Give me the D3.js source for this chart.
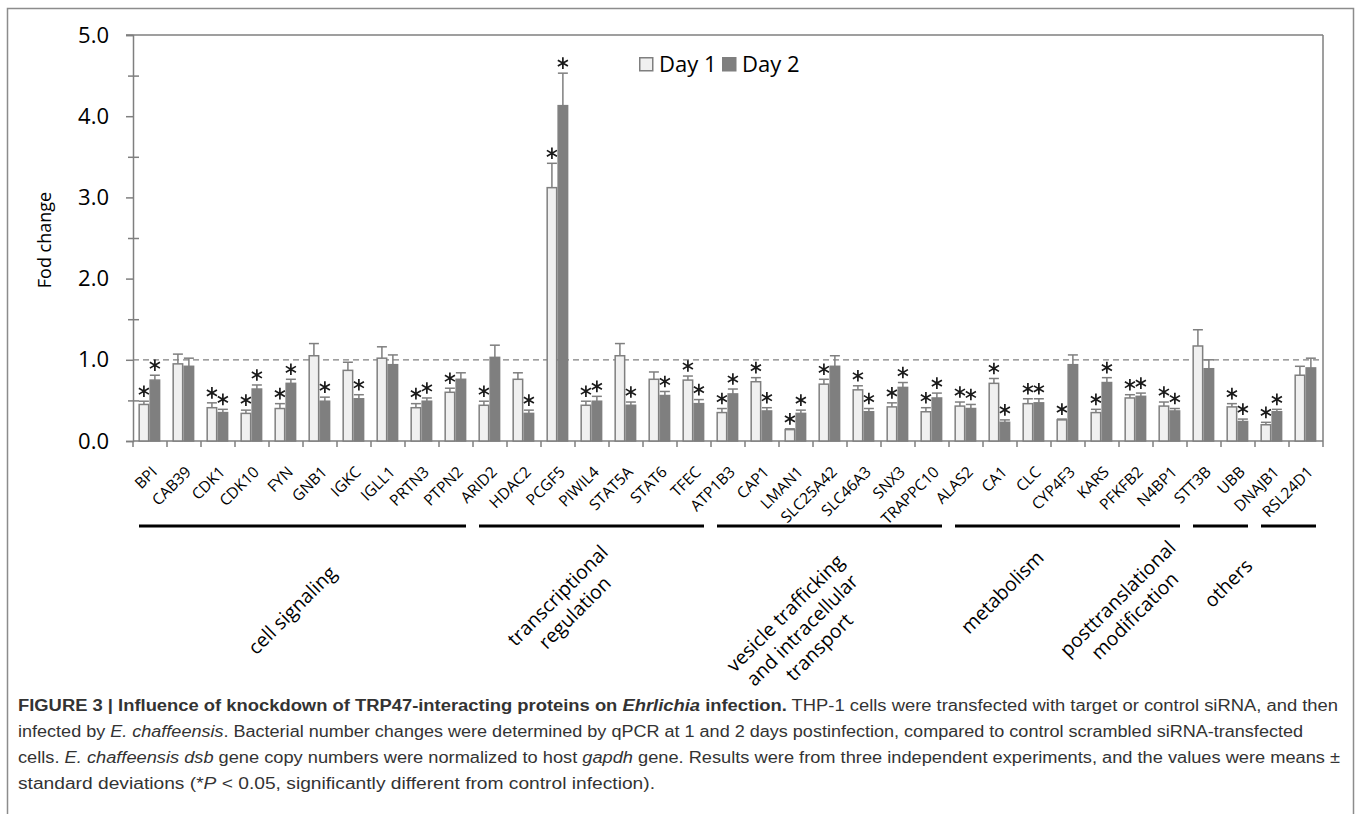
<!DOCTYPE html>
<html><head><meta charset="utf-8">
<script src="https://cdn.jsdelivr.net/npm/d3@7"></script>
<style>
body{margin:0;background:#fff;}
svg{display:block;}
</style></head>
<body>
<script>
// ---------------- DATA ----------------
const genes = ["BPI","CAB39","CDK1","CDK10","FYN","GNB1","IGKC","IGLL1","PRTN3","PTPN2",
  "ARID2","HDAC2","PCGF5","PIWIL4","STAT5A","STAT6","TFEC",
  "ATP1B3","CAP1","LMAN1","SLC25A42","SLC46A3","SNX3","TRAPPC10",
  "ALAS2","CA1","CLC","CYP4F3","KARS","PFKFB2","N4BP1",
  "STT3B","UBB","DNAJB1","RSL24D1"];
const day1 = [0.45,0.95,0.41,0.34,0.40,1.05,0.87,1.02,0.41,0.60,
  0.44,0.76,3.12,0.44,1.05,0.76,0.75,
  0.35,0.73,0.14,0.70,0.63,0.42,0.36,
  0.43,0.71,0.46,0.26,0.35,0.53,0.43,
  1.17,0.42,0.20,0.81];
const day2 = [0.75,0.92,0.35,0.64,0.71,0.49,0.52,0.94,0.49,0.76,
  1.03,0.34,4.13,0.49,0.44,0.56,0.46,
  0.58,0.37,0.34,0.92,0.36,0.66,0.53,
  0.40,0.23,0.47,0.94,0.72,0.55,0.37,
  0.89,0.24,0.36,0.90];
const sd1 = [0.04,0.12,0.06,0.04,0.06,0.15,0.10,0.14,0.05,0.05,
  0.05,0.08,0.30,0.05,0.15,0.09,0.05,
  0.05,0.05,0.01,0.06,0.05,0.05,0.05,
  0.05,0.06,0.06,0.01,0.04,0.04,0.05,
  0.20,0.04,0.03,0.11];
const sd2 = [0.06,0.10,0.04,0.05,0.05,0.05,0.05,0.12,0.04,0.08,
  0.15,0.04,0.40,0.06,0.04,0.05,0.05,
  0.06,0.04,0.04,0.13,0.04,0.06,0.06,
  0.05,0.03,0.05,0.12,0.06,0.04,0.03,
  0.11,0.03,0.03,0.12];
const sig1 = [1,0,1,1,1,0,0,0,1,1, 1,0,1,1,0,0,1, 1,1,1,1,1,1,1, 1,1,1,1,1,1,1, 0,1,1,0];
const sig2 = [1,0,1,1,1,1,1,0,1,0, 0,1,1,1,1,1,1, 1,1,1,0,1,1,1, 1,1,1,0,1,1,1, 0,1,1,0];
const seriesNames = ["Day 1","Day 2"];
const groupNames = [["cell signaling"],["transcriptional","regulation"],["vesicle trafficking","and intracellular","transport"],["metabolism"],["posttranslational","modification"],["others"]];
const groupSizes = [10,7,7,7,2,2];
const yTicks = [0,1,2,3,4,5];
const yMinor = [0.5,1.5,2.5,3.5,4.5];
const refLine = 1.0;
const yLabel = "Fod change";

// ---------------- LAYOUT ----------------
const W = 1360, H = 814;
const mL = 133, mR = 1323, mT = 35, mB = 441;
const groupLabelPos = [[292,610],[566,604],[802,630],[1002,592],[1126,607],[1228,583]];
const FONT = "'Open Sans', 'DejaVu Sans', sans-serif";
const GRAY = "#7f7f7f";

const svg = d3.select("body").append("svg").attr("width", W).attr("height", H);

// outer frame
svg.append("path").attr("d", `M7.5,${H+2} V8.5 H1353.5 V${H+2}`)
  .attr("fill","none").attr("stroke","#8c8c8c").attr("stroke-width",1.5);

const x = d3.scaleBand().domain(genes).range([mL, mR]).padding(0);
const xs = d3.scaleBand().domain(seriesNames).range([0, x.bandwidth()]).paddingInner(0).paddingOuter(0.55).align(0.45);
const y = d3.scaleLinear().domain([0,5]).range([mB, mT]);

const g = svg.append("g");

// plot frame top and right
g.append("line").attr("x1", mL-7).attr("x2", mR).attr("y1", y(5)).attr("y2", y(5))
  .attr("stroke", GRAY).attr("stroke-width", 1.5);
g.append("line").attr("x1", mR).attr("x2", mR).attr("y1", y(5)).attr("y2", y(0))
  .attr("stroke", GRAY).attr("stroke-width", 1.5);

// reference dashed line
g.append("line").attr("x1", mL).attr("x2", mR).attr("y1", y(refLine)).attr("y2", y(refLine))
  .attr("stroke", "#808080").attr("stroke-width", 1.2).attr("stroke-dasharray","6,4");

// y axis
const ya = g.append("g").attr("transform", `translate(${mL},0)`)
  .call(d3.axisLeft(y).tickValues(yTicks).tickSize(7).tickFormat(d3.format(".1f")));
ya.select(".domain").attr("stroke", GRAY).attr("stroke-width", 1.5);
ya.selectAll(".tick line").attr("stroke", GRAY).attr("stroke-width", 1.5);
ya.selectAll(".tick text").attr("font-family", FONT).attr("font-size", 22).attr("fill","#000").attr("x",-24);
const ym1 = g.append("g").attr("transform", `translate(${mL},0)`)
  .call(d3.axisLeft(y).tickValues(yMinor).tickSize(5).tickFormat(""));
const ym2 = g.append("g").attr("transform", `translate(${mL},0)`)
  .call(d3.axisRight(y).tickValues(yMinor).tickSize(6).tickFormat(""));
[ym1, ym2].forEach(a => { a.select(".domain").remove(); a.selectAll(".tick line").attr("stroke", GRAY).attr("stroke-width",1.5); });

svg.append("text").attr("transform", `translate(51,240) rotate(-90)`)
  .attr("text-anchor","middle").attr("font-family", FONT).attr("font-size", 18).text(yLabel);

// x axis
const xa = g.append("g").attr("transform", `translate(0,${mB})`)
  .call(d3.axisBottom(x).tickSize(0).tickSizeOuter(0));
xa.select(".domain").attr("stroke", GRAY).attr("stroke-width", 1.5).attr("d", `M${mL},0H${mR}`);
xa.selectAll(".tick text").attr("font-family", FONT).attr("font-size", 15.5).attr("fill","#000")
  .attr("text-anchor","end").attr("x",0).attr("y",0).attr("dy",0)
  .attr("transform","translate(8,32) rotate(-45)");
// boundary ticks
xa.selectAll(".bt").data(genes.concat(["__end"])).join("line").attr("class","bt")
  .attr("x1", (d,i) => i < genes.length ? x(d) : x(genes[genes.length-1]) + x.bandwidth())
  .attr("x2", (d,i) => i < genes.length ? x(d) : x(genes[genes.length-1]) + x.bandwidth())
  .attr("y1", 0).attr("y2", 6).attr("stroke", GRAY).attr("stroke-width", 1.5);

// bars
const rows = genes.map((gname,i) => ({gene:gname, vals:[
  {s:"Day 1", v:day1[i], e:sd1[i], sig:sig1[i]},
  {s:"Day 2", v:day2[i], e:sd2[i], sig:sig2[i]}]}));
const cat = g.selectAll(".cat").data(rows).join("g").attr("class","cat")
  .attr("transform", d => `translate(${x(d.gene)},0)`);
const fills = {"Day 1":"#f0f0f0","Day 2":"#7f7f7f"};
const items = cat.selectAll(".it").data(d => d.vals).join("g").attr("class","it");
// error bars (upper only)
items.append("line").attr("x1", d => xs(d.s)+xs.bandwidth()/2).attr("x2", d => xs(d.s)+xs.bandwidth()/2)
  .attr("y1", d => y(d.v)).attr("y2", d => y(d.v+d.e)).attr("stroke", GRAY).attr("stroke-width",1.5);
items.append("line").attr("x1", d => xs(d.s)+0.5).attr("x2", d => xs(d.s)+xs.bandwidth()-0.5)
  .attr("y1", d => y(d.v+d.e)).attr("y2", d => y(d.v+d.e)).attr("stroke", GRAY).attr("stroke-width",1.5);
items.append("rect").attr("x", d => xs(d.s)+0.75).attr("width", xs.bandwidth()-1.5)
  .attr("y", d => y(d.v)).attr("height", d => y(0)-y(d.v))
  .attr("fill", d => fills[d.s]).attr("stroke", GRAY).attr("stroke-width",1.5);
// significance asterisks
const star = d3.symbol().type(d3.symbolAsterisk).size(95);
items.filter(d => d.sig).append("path")
  .attr("transform", d => `translate(${xs(d.s)+xs.bandwidth()/2},${y(d.v+d.e)-10})`)
  .attr("d", star()).attr("fill","none").attr("stroke","#1a1a1a").attr("stroke-width",1.7);

// legend
const lg = svg.append("g").attr("transform","translate(639,57)");
seriesNames.forEach((s,i) => {
  const gg = lg.append("g").attr("transform", `translate(${i*83},0)`);
  gg.append("rect").attr("x",0.75).attr("y",0.75).attr("width",13).attr("height",13)
    .attr("fill", fills[s]).attr("stroke", GRAY).attr("stroke-width",1.5);
  gg.append("text").attr("x",20).attr("y",15).attr("font-family", FONT).attr("font-size",22).text(s);
});

// group lines and labels
let start = 0;
groupSizes.forEach((n,gi) => {
  const x0 = x(genes[start]), x1 = x(genes[start+n-1]) + x.bandwidth();
  svg.append("line").attr("x1", x0+6).attr("x2", x1-7).attr("y1", 526).attr("y2", 526)
    .attr("stroke","#000").attr("stroke-width",3);
  const [cx, cy] = groupLabelPos[gi];
  const lines = groupNames[gi];
  const t = svg.append("text").attr("transform", `translate(${cx},${cy}) rotate(-45)`)
    .attr("text-anchor","middle").attr("font-family", FONT).attr("font-size",19.5);
  lines.forEach((ln,li) => {
    t.append("tspan").attr("x",0).attr("y", (li - (lines.length-1)/2)*24 + 7).text(ln);
  });
  start += n;
});

// caption
const CF = "'Liberation Sans Narrow','Liberation Sans', Arial, sans-serif";
const capLines = [
  {y:711, w:1320, parts:[["FIGURE 3 | Influence of knockdown of TRP47-interacting proteins on ","b"],["Ehrlichia","bi"],[" infection.","b"],[" THP-1 cells were transfected with target or control siRNA, and then",""]]},
  {y:737, w:1285, parts:[["infected by ",""],["E. chaffeensis","i"],[". Bacterial number changes were determined by qPCR at 1 and 2 days postinfection, compared to control scrambled siRNA-transfected",""]]},
  {y:763, w:1322, parts:[["cells. ",""],["E. chaffeensis dsb","i"],[" gene copy numbers were normalized to host ",""],["gapdh","i"],[" gene. Results were from three independent experiments, and the values were means \u00b1",""]]},
  {y:789, w:637, parts:[["standard deviations (*",""],["P","i"],[" < 0.05, significantly different from control infection).",""]]}
];
capLines.forEach(l => {
  const t = svg.append("text").attr("x",18).attr("y",l.y).attr("font-family",CF).attr("font-size",16)
    .attr("fill","#333").attr("textLength", l.w).attr("lengthAdjust","spacingAndGlyphs");
  l.parts.forEach(p => {
    t.append("tspan").attr("font-weight", p[1].includes("b") ? "bold" : "normal")
      .attr("font-style", p[1].includes("i") ? "italic" : "normal").text(p[0]);
  });
});
</script>
</body></html>
